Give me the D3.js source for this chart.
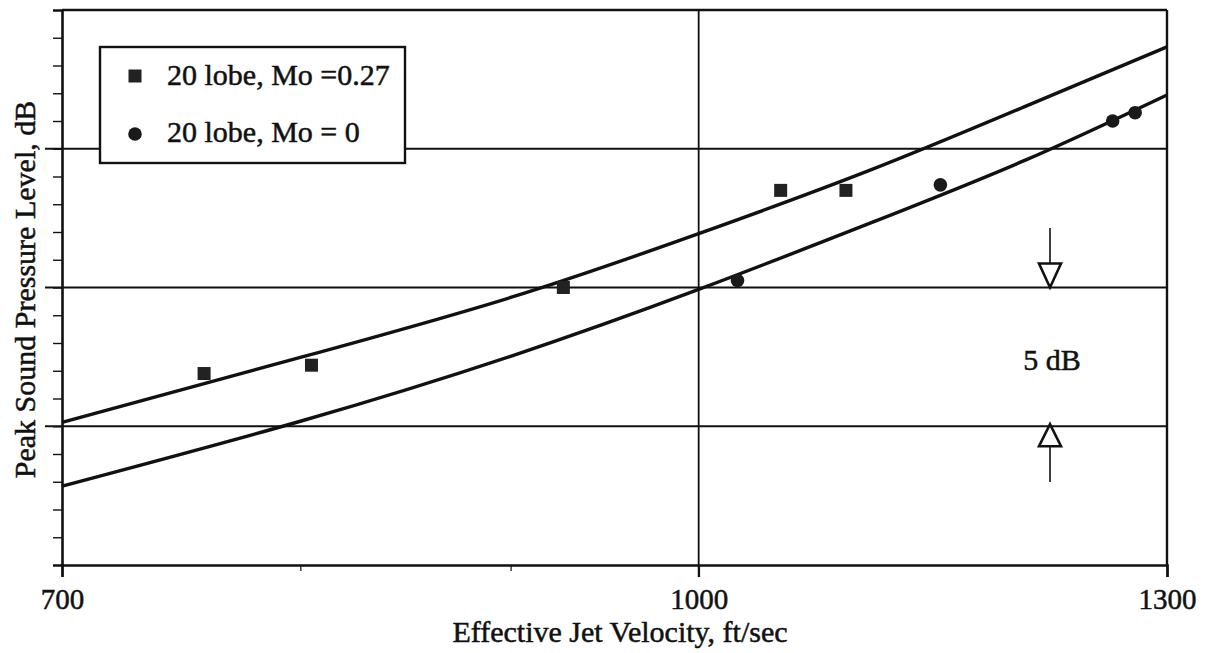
<!DOCTYPE html>
<html>
<head>
<meta charset="utf-8">
<script src="https://cdn.jsdelivr.net/npm/d3@7"></script>
<style>
  html, body { margin: 0; padding: 0; background: #fff; }
  svg { display: block; }
</style>
</head>
<body>
<svg id="chart" width="1211" height="653"></svg>
<script>
// Measured points: peak SPL (dB) vs effective jet velocity (ft/sec)
const lobe20FlightVel = [758, 805, 927, 1047, 1086];
const lobe20FlightSpl = [121.9, 122.2, 125.0, 128.5, 128.5];
const lobe20StaticVel = [1022, 1145, 1261, 1277];
const lobe20StaticSpl = [125.25, 128.7, 131.0, 131.3];

// Fitted trend curves
const curveVel = [700, 800, 900, 1000, 1100, 1200, 1300];
const fitFlightSpl = [120.14, 122.48, 124.64, 126.94, 129.21, 131.51, 133.67];
const fitStaticSpl = [117.84, 120.18, 122.52, 124.93, 127.3, 129.57, 131.94];

const seriesNames = ["20 lobe, Mo =0.27", "20 lobe, Mo = 0"];
const xTickValues = [700, 1000, 1300];
const xMinorTicks = [800, 900];
const yGridValues = [120, 125, 130];
const xLabel = "Effective Jet Velocity, ft/sec";
const yLabel = "Peak Sound Pressure Level, dB";
const spanLabel = "5 dB";

(function draw() {
  const svg = d3.select("#chart");
  const mLeft = 62, mRight = 1167, mTop = 10, mBottom = 565;
  const ink = "#111";
  const serif = "'Liberation Serif', 'Times New Roman', Tinos, 'DejaVu Serif', serif";
  const fs = 30;

  // Serif text with a faint outline so the strokes read as heavy as print
  const styleText = sel => sel
    .style("font-family", serif).attr("fill", ink)
    .attr("stroke", ink).attr("stroke-width", 0.5);

  const x = d3.scaleLog().domain([700, 1300]).range([mLeft, mRight]);
  const y = d3.scaleLinear().domain([115, 135]).range([mBottom, mTop]);

  // Grid lines
  const g = svg.append("g");
  g.selectAll("line.hgrid").data(yGridValues).join("line")
    .attr("x1", mLeft - 17).attr("x2", mRight)
    .attr("y1", d => y(d)).attr("y2", d => y(d))
    .attr("stroke", ink).attr("stroke-width", 1.8);
  g.append("line")
    .attr("x1", x(1000)).attr("x2", x(1000))
    .attr("y1", mTop).attr("y2", mBottom + 12)
    .attr("stroke", ink).attr("stroke-width", 1.8);

  // Left axis with 1 dB minor ticks
  const yAxis = d3.axisLeft(y).tickValues(d3.range(116, 135, 1)).tickSize(9).tickFormat("");
  const ya = svg.append("g").attr("transform", `translate(${mLeft},0)`).call(yAxis);
  ya.select(".domain").attr("stroke", ink).attr("stroke-width", 2.6);
  ya.selectAll(".tick line").attr("stroke", ink).attr("stroke-width", 1.4);

  // Bottom axis
  const xAxis = d3.axisBottom(x).tickValues(xTickValues).tickSize(12).tickFormat(d3.format("d"));
  const xa = svg.append("g").attr("transform", `translate(0,${mBottom})`).call(xAxis);
  xa.select(".domain").attr("stroke", ink).attr("stroke-width", 2.6);
  xa.selectAll(".tick line").attr("stroke", ink).attr("stroke-width", 1.8);
  xa.selectAll(".tick text").call(styleText)
    .style("font-size", "29px").attr("dy", "1.0em");
  svg.append("g").attr("transform", `translate(0,${mBottom})`)
    .call(d3.axisBottom(x).tickValues(xMinorTicks).tickSize(6).tickFormat(""))
    .call(s => s.select(".domain").remove())
    .selectAll(".tick line").attr("stroke", ink).attr("stroke-width", 1.2);

  // Top and right frame
  svg.append("line").attr("x1", mLeft).attr("x2", mRight).attr("y1", mTop).attr("y2", mTop)
    .attr("stroke", ink).attr("stroke-width", 2.4);
  svg.append("line").attr("x1", mRight).attr("x2", mRight).attr("y1", mTop).attr("y2", mBottom)
    .attr("stroke", ink).attr("stroke-width", 2.4);

  // Trend curves
  const line = d3.line().x(d => x(d[0])).y(d => y(d[1])).curve(d3.curveNatural);
  svg.append("path").datum(d3.zip(curveVel, fitFlightSpl))
    .attr("d", line).attr("fill", "none").attr("stroke", ink).attr("stroke-width", 3.4);
  svg.append("path").datum(d3.zip(curveVel, fitStaticSpl))
    .attr("d", line).attr("fill", "none").attr("stroke", ink).attr("stroke-width", 3.4);

  // Data markers
  const sq = 13;
  svg.selectAll("rect.flight").data(d3.zip(lobe20FlightVel, lobe20FlightSpl)).join("rect")
    .attr("class", "flight")
    .attr("x", d => x(d[0]) - sq / 2).attr("y", d => y(d[1]) - sq / 2)
    .attr("width", sq).attr("height", sq).attr("fill", "#222");
  svg.selectAll("circle.static").data(d3.zip(lobe20StaticVel, lobe20StaticSpl)).join("circle")
    .attr("class", "static")
    .attr("cx", d => x(d[0])).attr("cy", d => y(d[1])).attr("r", 6.8).attr("fill", "#1a1a1a");

  // Legend
  const lg = svg.append("g");
  lg.append("rect").attr("x", 100).attr("y", 47).attr("width", 305).attr("height", 116)
    .attr("fill", "#fff").attr("stroke", ink).attr("stroke-width", 2.4);
  lg.append("rect").attr("x", 135 - 6.5).attr("y", 76 - 6.5).attr("width", 13).attr("height", 13).attr("fill", "#222");
  lg.append("circle").attr("cx", 135).attr("cy", 134).attr("r", 6.8).attr("fill", "#1a1a1a");
  lg.selectAll("text").data(seriesNames).join("text")
    .attr("x", 167).attr("y", (d, i) => 85 + i * 57)
    .call(styleText).style("font-size", fs + "px")
    .text(d => d);

  // 5 dB span indicator
  const ax = 1050;
  const arrowStroke = 2.6;
  svg.append("line").attr("x1", ax).attr("x2", ax).attr("y1", 228).attr("y2", y(125) - 24)
    .attr("stroke", ink).attr("stroke-width", 1.6);
  svg.append("path")
    .attr("d", `M${ax - 11},${y(125) - 24} L${ax + 11},${y(125) - 24} L${ax},${y(125)} Z`)
    .attr("fill", "#fff").attr("stroke", ink).attr("stroke-width", arrowStroke);
  svg.append("line").attr("x1", ax).attr("x2", ax).attr("y1", y(120) + 20).attr("y2", 482)
    .attr("stroke", ink).attr("stroke-width", 1.6);
  svg.append("path")
    .attr("d", `M${ax - 11},${y(120) + 20} L${ax + 11},${y(120) + 20} L${ax},${y(120) - 2} Z`)
    .attr("fill", "#fff").attr("stroke", ink).attr("stroke-width", arrowStroke);
  svg.append("text").attr("x", 1052).attr("y", 370).attr("text-anchor", "middle")
    .call(styleText).style("font-size", fs + "px")
    .text(spanLabel);

  // Axis titles
  svg.append("text").attr("x", 620).attr("y", 642).attr("text-anchor", "middle")
    .call(styleText).style("font-size", fs + "px")
    .text(xLabel);
  svg.append("text").attr("transform", `translate(35,${(mTop + mBottom) / 2 + 2}) rotate(-90)`)
    .attr("text-anchor", "middle")
    .call(styleText).style("font-size", fs + "px")
    .text(yLabel);
})();
</script>
</body>
</html>
